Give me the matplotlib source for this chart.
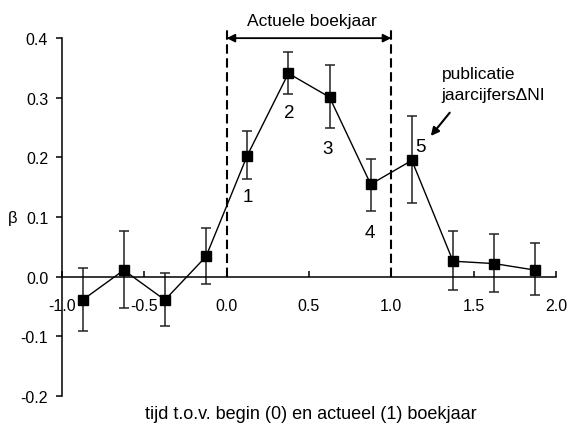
import matplotlib
matplotlib.use("Agg")
import matplotlib.pyplot as plt
import numpy as np

plt.rcParams['font.family'] = ['Liberation Sans', 'DejaVu Sans']
plt.rcParams['axes.unicode_minus'] = False

x = [-0.875, -0.625, -0.375, -0.125, 0.125, 0.375, 0.625, 0.875, 1.125, 1.375, 1.625, 1.875]
beta = [-0.039, 0.011, -0.039, 0.034, 0.203, 0.341, 0.301, 0.155, 0.195, 0.026, 0.022, 0.011]
err_low = [0.052, 0.063, 0.043, 0.047, 0.040, 0.035, 0.051, 0.045, 0.072, 0.049, 0.048, 0.041]
err_high = [0.054, 0.066, 0.045, 0.047, 0.042, 0.036, 0.054, 0.043, 0.074, 0.051, 0.050, 0.046]

point_labels = ["1", "2", "3", "4", "5"]
label_pos = [(0.127, 0.135), (0.38, 0.276), (0.61, 0.215), (0.87, 0.074), (1.18, 0.219)]

xticks = [-1.0, -0.5, 0.0, 0.5, 1.0, 1.5, 2.0]
yticks = [-0.2, -0.1, 0.0, 0.1, 0.2, 0.3, 0.4]

fig = plt.figure(figsize=(5.69, 4.35), dpi=100)
ax = fig.add_axes([0.109, 0.0874, 0.868, 0.8226])
ax.set_xlim(-1.0, 2.0)
ax.set_ylim(-0.2, 0.4)

ax.errorbar(x, beta, yerr=[err_low, err_high], fmt='none', ecolor='#222222',
            elinewidth=1.1, capsize=3.5, capthick=1.1, zorder=2)
ax.plot(x, beta, color='black', lw=1.0, marker='s', markersize=7.5,
        markerfacecolor='black', markeredgecolor='black', zorder=3)

# dashed boundaries of current fiscal year
for xv in [0.0, 1.0]:
    ax.plot([xv, xv], [0.0, 0.416], color='black', lw=1.5, ls=(0, (4.5, 2.2)),
            clip_on=False, zorder=1)
ax.annotate('', xy=(0.0, 0.4), xytext=(1.0, 0.4),
            arrowprops=dict(arrowstyle='<|-|>', color='black', lw=1.3,
                            mutation_scale=12, shrinkA=0, shrinkB=0),
            annotation_clip=False)
ax.text(0.515, 0.429, 'Actuele boekjaar', ha='center', va='center', fontsize=12.5)

for lab, (lx, ly) in zip(point_labels, label_pos):
    ax.text(lx, ly, lab, ha='center', va='center', fontsize=13.5)

ax.text(1.305, 0.323, 'publicatie\njaarcijfers\u0394NI', ha='left', va='center',
        fontsize=12.5, linespacing=1.45)
ax.annotate('', xy=(1.24, 0.236), xytext=(1.355, 0.275),
            arrowprops=dict(arrowstyle='-|>', color='black', lw=1.5,
                            mutation_scale=12, shrinkA=0, shrinkB=0))

ax.spines['top'].set_visible(False)
ax.spines['right'].set_visible(False)
ax.spines['bottom'].set_position(('data', 0.0))
ax.spines['bottom'].set_linewidth(1.1)
ax.spines['left'].set_linewidth(1.1)

ax.set_xticks(xticks)
ax.set_xticklabels([f"{v:.1f}" for v in xticks])
ax.set_yticks(yticks)
ax.set_yticklabels([f"{v:.1f}" for v in yticks])
ax.tick_params(axis='x', direction='in', length=4, width=1.1, pad=15, labelsize=11.5)
ax.tick_params(axis='y', direction='out', length=4, width=1.1, pad=6, labelsize=11.5)

ax.set_ylabel('\u03b2', rotation=0, fontsize=12, va='center')
ax.yaxis.set_label_coords(-0.1, 0.5)
fig.text(0.546, 0.046, 'tijd t.o.v. begin (0) en actueel (1) boekjaar',
         ha='center', va='center', fontsize=13)

fig.savefig('out.png', dpi=100)
